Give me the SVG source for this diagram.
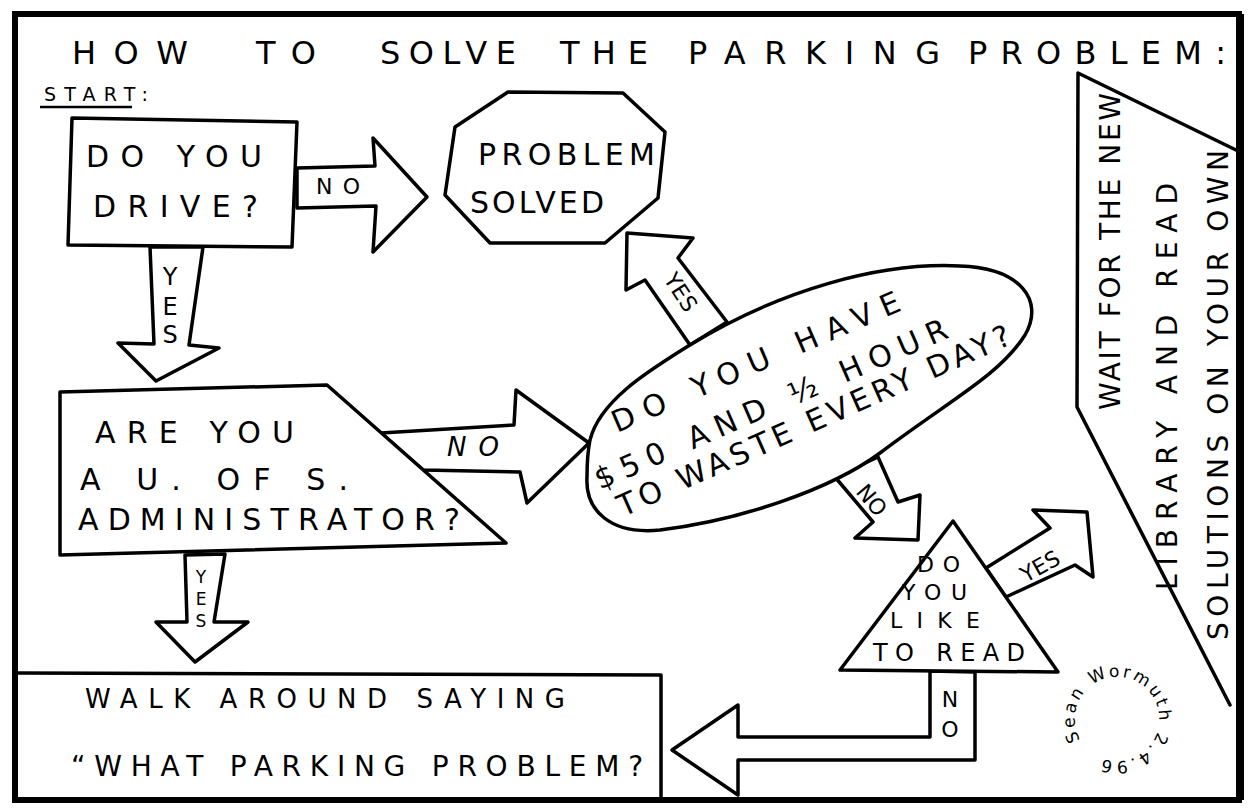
<svg xmlns="http://www.w3.org/2000/svg" width="1254" height="810" viewBox="0 0 1254 810">
<style>
.ln{fill:#fff;stroke:#000;stroke-width:3.5;stroke-linejoin:round;stroke-linecap:round}
.op{fill:none;stroke:#000;stroke-width:3.5;stroke-linejoin:round;stroke-linecap:round}
.t{font-family:"DejaVu Sans","Liberation Sans",sans-serif;fill:#000}
</style>
<rect x="0" y="0" width="1254" height="810" fill="#fff"/>
<rect x="15" y="14" width="1224" height="786" fill="none" stroke="#000" stroke-width="6"/>
<line x1="1240" y1="14" x2="1240" y2="800" stroke="#000" stroke-width="8"/>
<g id="title">
<text class="t" font-size="32" y="64"><tspan x="72" textLength="116" lengthAdjust="spacing">HOW</tspan><tspan x="256" textLength="60" lengthAdjust="spacing">TO</tspan><tspan x="380" textLength="136" lengthAdjust="spacing">SOLVE</tspan><tspan x="560" textLength="88" lengthAdjust="spacing">THE</tspan><tspan x="688" textLength="252" lengthAdjust="spacing">PARKING</tspan><tspan x="968" textLength="258" lengthAdjust="spacing">PROBLEM:</tspan></text>
<text class="t" font-size="19" x="44" y="101" textLength="104" lengthAdjust="spacing">START:</text>
<line x1="40" y1="107" x2="132" y2="107" stroke="#000" stroke-width="2.5"/>
</g>
<g id="connectors">
<polygon class="ln" points="297,168 375,166 373,138 427,197 373,252 376,206 297,208"/>
<text class="t" font-size="22" x="316" y="194" textLength="44" lengthAdjust="spacing">NO</text>
<polygon class="ln" points="150,247 203,247 189,345 219,348 156,381 118,343 154,344"/>
<text class="t" font-size="24" text-anchor="middle"><tspan x="170" y="285">Y</tspan><tspan x="170" y="315">E</tspan><tspan x="170" y="343">S</tspan></text>
<polygon class="ln" points="381,433 514,425 516,390 589,443 527,503 520,472 423,470"/>
<text class="t" font-size="26" font-style="italic" x="447" y="456" textLength="52" lengthAdjust="spacing">NO</text>
<polygon class="ln" points="185,555 225,554 214,622 248,622 195,662 156,622 187,622"/>
<text class="t" font-size="17" text-anchor="middle"><tspan x="201" y="583">Y</tspan><tspan x="201" y="605">E</tspan><tspan x="201" y="627">S</tspan></text>
<polygon class="ln" points="627,233 693,238 678,258 727,322 690,345 645,280 626,290"/>
<text class="t" font-size="22" text-anchor="middle" transform="translate(681,292) rotate(57)" y="8">YES</text>
<polygon class="ln" points="835,477 873,522 855,538 918,540 920,495 898,502 878,457"/>
<text class="t" font-size="22" text-anchor="middle" transform="translate(872,500) rotate(50)" y="8">NO</text>
<polygon class="ln" points="986,568 1050,528 1033,510 1087,512 1093,577 1075,565 1006,597"/>
<text class="t" font-size="22" text-anchor="middle" transform="translate(1040,566) rotate(-29)" y="8">YES</text>
<polygon class="ln" points="930,671 930,737 738,737 738,705 672,750 738,795 738,760 975,760 975,672"/>
<text class="t" font-size="22" text-anchor="middle"><tspan x="950" y="707">N</tspan><tspan x="950" y="737">O</tspan></text>
</g>
<g id="drive">
<polygon class="ln" points="72,118 297,122 292,247 68,245"/>
<text class="t" font-size="30" x="86" y="167" textLength="176" lengthAdjust="spacing">DO YOU</text>
<text class="t" font-size="30" x="93" y="217" textLength="165" lengthAdjust="spacing">DRIVE?</text>
</g>
<g id="solved">
<polygon class="ln" points="508,92 623,93 665,132 658,198 605,243 490,243 445,195 455,127"/>
<text class="t" font-size="30" x="478" y="165" textLength="177" lengthAdjust="spacing">PROBLEM</text>
<text class="t" font-size="30" x="470" y="213" textLength="134" lengthAdjust="spacing">SOLVED</text>
</g>
<g id="admin">
<polygon class="ln" points="60,392 327,385 506,543 60,555"/>
<text class="t" font-size="30" x="95" y="443" textLength="199" lengthAdjust="spacing">ARE YOU</text>
<text class="t" font-size="30" x="80" y="490" textLength="268" lengthAdjust="spacing">A U. OF S.</text>
<text class="t" font-size="30" x="78" y="530" textLength="382" lengthAdjust="spacing">ADMINISTRATOR?</text>
</g>
<g id="money">
<path class="ln" d="M590,440 C600,400 650,370 690,345 C780,290 880,262 960,266 C1020,268 1045,300 1025,335 C1000,375 950,400 880,453 C830,490 740,520 660,530 C610,535 585,510 587,477 C587,460 588,450 590,440 Z"/>
<text class="t" font-size="30" transform="translate(617,433) rotate(-23.3)" textLength="311" lengthAdjust="spacing">DO YOU HAVE</text>
<text class="t" font-size="30" transform="translate(600,490) rotate(-23.6)" textLength="382" lengthAdjust="spacing">$50 AND ½ HOUR</text>
<text class="t" font-size="30" transform="translate(623,517) rotate(-24)" textLength="427" lengthAdjust="spacing">TO WASTE EVERY DAY?</text>
</g>
<g id="read">
<polygon class="ln" points="953,521 840,670 1058,672"/>
<text class="t" font-size="22" x="917" y="572" textLength="43" lengthAdjust="spacing">DO</text>
<text class="t" font-size="22" x="902" y="600" textLength="65" lengthAdjust="spacing">YOU</text>
<text class="t" font-size="22" x="890" y="628" textLength="90" lengthAdjust="spacing">LIKE</text>
<text class="t" font-size="24" x="873" y="661" textLength="152" lengthAdjust="spacing">TO READ</text>
</g>
<g id="library">
<path class="op" d="M1236,150 L1078,73 L1077,407 L1230,705"/>
<text class="t" font-size="28" transform="translate(1120,410) rotate(-90)" textLength="317" lengthAdjust="spacing">WAIT FOR THE NEW</text>
<text class="t" font-size="28" transform="translate(1177,590) rotate(-90)" textLength="407" lengthAdjust="spacing">LIBRARY AND READ</text>
<text class="t" font-size="28" transform="translate(1228,640) rotate(-90)" textLength="490" lengthAdjust="spacing">SOLUTIONS ON YOUR OWN</text>
</g>
<g id="walk">
<path class="op" d="M18,673 L661,675 L661,800"/>
<text class="t" font-size="26" x="85" y="708" textLength="480" lengthAdjust="spacing">WALK AROUND SAYING</text>
<text class="t" font-size="28" x="71" y="776" textLength="572" lengthAdjust="spacing">“WHAT PARKING PROBLEM?</text>
</g>
<g id="signature">
<defs><path id="sig" d="M1080.4,740 A42,42 0 1,1 1153.6,698 A42,42 0 1,1 1080.4,740"/></defs>
<text class="t" font-size="17"><textPath href="#sig" textLength="235" lengthAdjust="spacing">Sean Wormuth 2.4.96</textPath></text>
</g>
</svg>
